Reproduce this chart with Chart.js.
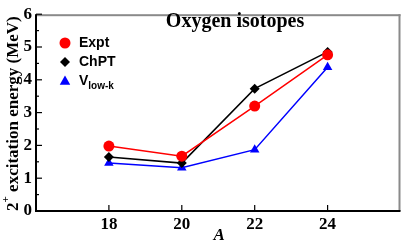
<!DOCTYPE html>
<html>
<head>
<meta charset="utf-8">
<script src="https://cdn.jsdelivr.net/npm/chart.js@4"></script>
<style>
  html, body { margin: 0; padding: 0; background: #fff; }
  #wrap { width: 406px; height: 244px; }
</style>
</head>
<body>
<div id="wrap"><canvas id="chart" width="406" height="244"></canvas></div>
<script>
// Data
const massNumbers = [18, 20, 22, 24];
const expt = [1.98, 1.67, 3.20, 4.76];
const chpt = [1.65, 1.46, 3.73, 4.85];
const vlowk = [1.46, 1.32, 1.87, 4.38];
const xTicks = [18, 20, 22, 24];
const yTicks = [0, 1, 2, 3, 4, 5, 6];

const serif = '"Liberation Serif", "Times New Roman", serif';
const sans = '"Liberation Sans", Arial, sans-serif';

function toPoints(vals) {
    return massNumbers.map((a, i) => ({ x: a, y: vals[i] }));
}

// Frame, inward ticks, title, legend and axis titles
const decor = {
    id: "decor",
    afterDraw(chart) {
        const c = chart.ctx;
        const a = chart.chartArea;
        const xs = chart.scales.x, ys = chart.scales.y;
        c.save();
        // gray top/right border
        c.fillStyle = "#8a8a8a";
        c.fillRect(a.left, a.top, a.right - a.left, 2);
        c.fillRect(a.right - 2, a.top, 2, a.bottom - a.top);
        // black left/bottom axes
        c.fillStyle = "#000";
        c.fillRect(a.left - 1, a.top, 2, a.bottom - a.top + 1);
        c.fillRect(a.left - 1, a.bottom - 1, a.right - a.left + 1, 2);
        // y ticks, major and half-step minor
        c.strokeStyle = "#000";
        c.lineWidth = 1.2;
        for (let v = 0; v <= 6; v += 0.5) {
            const py = ys.getPixelForValue(v);
            const len = Number.isInteger(v) ? 6 : 3;
            c.beginPath();
            c.moveTo(a.left, py);
            c.lineTo(a.left + len, py);
            c.stroke();
        }
        xTicks.forEach(v => {
            const px = xs.getPixelForValue(v);
            c.beginPath();
            c.moveTo(px, a.bottom);
            c.lineTo(px, a.bottom - 6);
            c.stroke();
        });

        // title
        c.fillStyle = "#000";
        c.font = "bold 20px " + serif;
        c.textAlign = "center";
        c.textBaseline = "middle";
        c.fillText("Oxygen isotopes", 235, 22);

        // legend
        const items = [
            { ds: 0, text: "Expt", y: 43 },
            { ds: 1, text: "ChPT", y: 62 },
            { ds: 2, text: "V", sub: "low-k", y: 81 }
        ];
        items.forEach(it => {
            const ds = chart.data.datasets[it.ds];
            c.fillStyle = ds.pointBackgroundColor;
            drawMarker(c, ds.pointStyle, 65, it.y, ds.pointRadius);
            c.fillStyle = "#000";
            c.font = "bold 14px " + sans;
            c.textAlign = "left";
            c.textBaseline = "middle";
            c.fillText(it.text, 79, it.y);
            if (it.sub) {
                const w = c.measureText(it.text).width;
                c.font = "bold 10px " + sans;
                c.fillText(it.sub, 79 + w, it.y + 5);
            }
        });

        // x axis title
        c.font = "italic bold 17px " + serif;
        c.textAlign = "center";
        c.textBaseline = "middle";
        c.fillText("A", (a.left + a.right) / 2 + 1, 236);

        // y axis title with superscript
        c.translate(14, (a.top + a.bottom) / 2 + 1);
        c.rotate(-Math.PI / 2);
        const main = " excitation energy (MeV)";
        c.font = "bold 17px " + serif;
        const w2 = c.measureText("2").width;
        c.font = "bold 11px " + serif;
        const wp = c.measureText("+").width;
        c.font = "bold 17px " + serif;
        const wm = c.measureText(main).width;
        const total = w2 + wp + wm;
        const x0 = -total / 2;
        c.textAlign = "left";
        c.fillText("2", x0, 0);
        c.font = "bold 11px " + serif;
        c.fillText("+", x0 + w2, -8);
        c.font = "bold 17px " + serif;
        c.fillText(main, x0 + w2 + wp, 0);
        c.restore();
    }
};

function drawMarker(c, style, x, y, r) {
    c.beginPath();
    if (style === "circle") {
        c.arc(x, y, r, 0, Math.PI * 2);
    } else if (style === "rectRot") {
        c.moveTo(x, y - r); c.lineTo(x + r, y); c.lineTo(x, y + r); c.lineTo(x - r, y);
        c.closePath();
    } else {
        c.moveTo(x, y - r); c.lineTo(x + r * 0.95, y + r * 0.7); c.lineTo(x - r * 0.95, y + r * 0.7);
        c.closePath();
    }
    c.fill();
}

function series(label, data, color, style, radius) {
    return {
        label: label,
        data: toPoints(data),
        borderColor: color,
        backgroundColor: color,
        pointBackgroundColor: color,
        pointBorderColor: color,
        pointStyle: style,
        pointRadius: radius,
        pointBorderWidth: 0,
        borderWidth: 1.5,
        tension: 0
    };
}

const ctx = document.getElementById("chart").getContext("2d");
const chart = new Chart(ctx, {
    type: "line",
    data: {
        datasets: [
            series("Expt", expt, "#ff0000", "circle", 5.5),
            series("ChPT", chpt, "#000000", "rectRot", 5),
            series("Vlow-k", vlowk, "#0000ff", "triangle", 5.5)
        ]
    },
    options: {
        responsive: false,
        animation: false,
        layout: { padding: { top: 5, right: 3, left: 0, bottom: 0 } },
        plugins: {
            legend: { display: false },
            tooltip: { enabled: false }
        },
        scales: {
            x: {
                type: "linear",
                min: 16,
                max: 26,
                afterBuildTicks: s => { s.ticks = xTicks.map(v => ({ value: v })); },
                afterFit: s => { s.height = 33; },
                grid: { display: false, drawTicks: false },
                border: { display: false },
                ticks: {
                    color: "#000",
                    padding: 3,
                    font: { family: serif, size: 17, weight: "bold" }
                }
            },
            y: {
                min: 0,
                max: 6,
                afterBuildTicks: s => { s.ticks = yTicks.map(v => ({ value: v })); },
                afterFit: s => { s.width = 36; },
                grid: { display: false, drawTicks: false },
                border: { display: false },
                ticks: {
                    color: "#000",
                    padding: 4,
                    font: { family: serif, size: 17, weight: "bold" }
                }
            }
        }
    },
    plugins: [decor]
});
</script>
</body>
</html>
